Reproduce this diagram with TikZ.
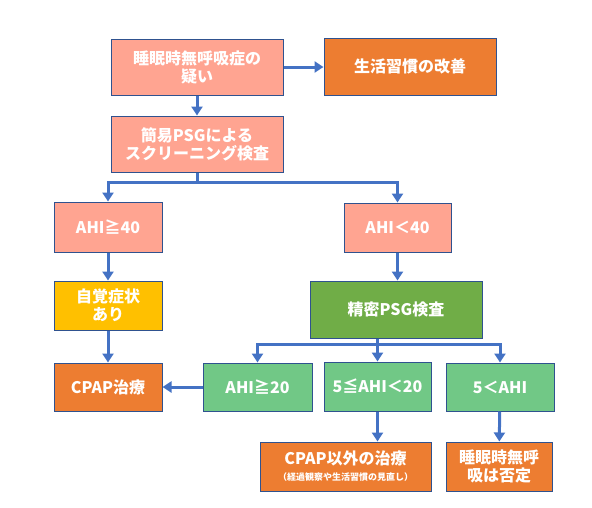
\documentclass[tikz,border=0pt]{standalone}
\usepackage{fontspec}
\setmainfont{Noto Sans CJK JP}
\usetikzlibrary{arrows.meta}
\definecolor{salmon}{HTML}{FFA491}
\definecolor{carrot}{HTML}{ED7D31}
\definecolor{amber}{HTML}{FFC000}
\definecolor{leaf}{HTML}{70AD47}
\definecolor{mint}{HTML}{71C886}
\definecolor{edgeblue}{HTML}{2F528F}
\definecolor{arrowblue}{HTML}{4472C4}

\begin{document}
\begin{tikzpicture}[x=1pt,y=-1pt,>={Triangle[width=11pt,length=9pt]},
        flow/.style={->,draw=arrowblue,line width=3pt},
        box/.style={draw=edgeblue,line width=1pt,text=white,align=center,inner sep=0pt,
                    font=\bfseries\fontsize{16}{18}\selectfont}]
        \useasboundingbox (0,0) rectangle (592,507);
        \node[box,fill=salmon,minimum width=172pt,minimum height=56pt] (sus) at (197,67) {睡眠時無呼吸症の\\疑い};
        \node[box,fill=carrot,minimum width=172pt,minimum height=57pt] (life) at (410,66.5) {生活習慣の改善};
        \node[box,fill=salmon,minimum width=172pt,minimum height=56pt] (scr) at (197,144) {簡易PSGによる\\スクリーニング検査};
        \node[box,fill=salmon,minimum width=108pt,minimum height=50pt] (hi40) at (108,227) {AHI≧40};
        \node[box,fill=salmon,minimum width=107pt,minimum height=49pt] (lo40) at (397.5,227.5) {AHI＜40};
        \node[box,fill=amber,minimum width=108pt,minimum height=49pt] (sym) at (108,305.5) {自覚症状\\あり};
        \node[box,fill=leaf,minimum width=172pt,minimum height=57pt] (psg) at (396,309.5) {精密PSG検査};
        \node[box,fill=carrot,minimum width=108pt,minimum height=48pt] (cpap) at (108,387) {CPAP治療};
        \node[box,fill=mint,minimum width=109pt,minimum height=48pt] (hi20) at (257.5,387) {AHI≧20};
        \node[box,fill=mint,minimum width=107pt,minimum height=49pt] (mid) at (377.5,386.5) {5≦AHI＜20};
        \node[box,fill=mint,minimum width=108pt,minimum height=48pt] (lo5) at (500,387) {5＜AHI};
        \node[box,fill=carrot,minimum width=171pt,minimum height=49pt] (alt) at (345.5,466.5)
            {CPAP以外の治療\\[-2pt]{\fontsize{9}{11}\selectfont （経過観察や生活習慣の見直し）}};
        \node[box,fill=carrot,minimum width=106pt,minimum height=49pt] (neg) at (499,466.5) {睡眠時無呼\\吸は否定};

        % connectors
        \draw[flow] (sus.east) -- (sus.east -| life.west);
        \draw[flow] (sus) -- (scr);
        \draw[flow] (scr.south) -- ++(0,10) -| (hi40.north);
        \draw[flow] (scr.south) -- ++(0,10) -| (lo40.north);
        \draw[flow] (hi40) -- (sym);
        \draw[flow] (lo40.south) -- (lo40.south |- psg.north);
        \draw[flow] (sym) -- (cpap);
        \draw[flow] (psg.south -| mid.north) -- ++(0,6) -| (hi20.north);
        \draw[flow] (psg.south -| mid.north) -- (mid.north);
        \draw[flow] (psg.south -| mid.north) -- ++(0,6) -| (lo5.north);
        \draw[flow] (hi20) -- (cpap);
        \draw[flow] (mid.south) -- (mid.south |- alt.north);
        \draw[flow] (lo5) -- (neg);
\end{tikzpicture}
\end{document}
